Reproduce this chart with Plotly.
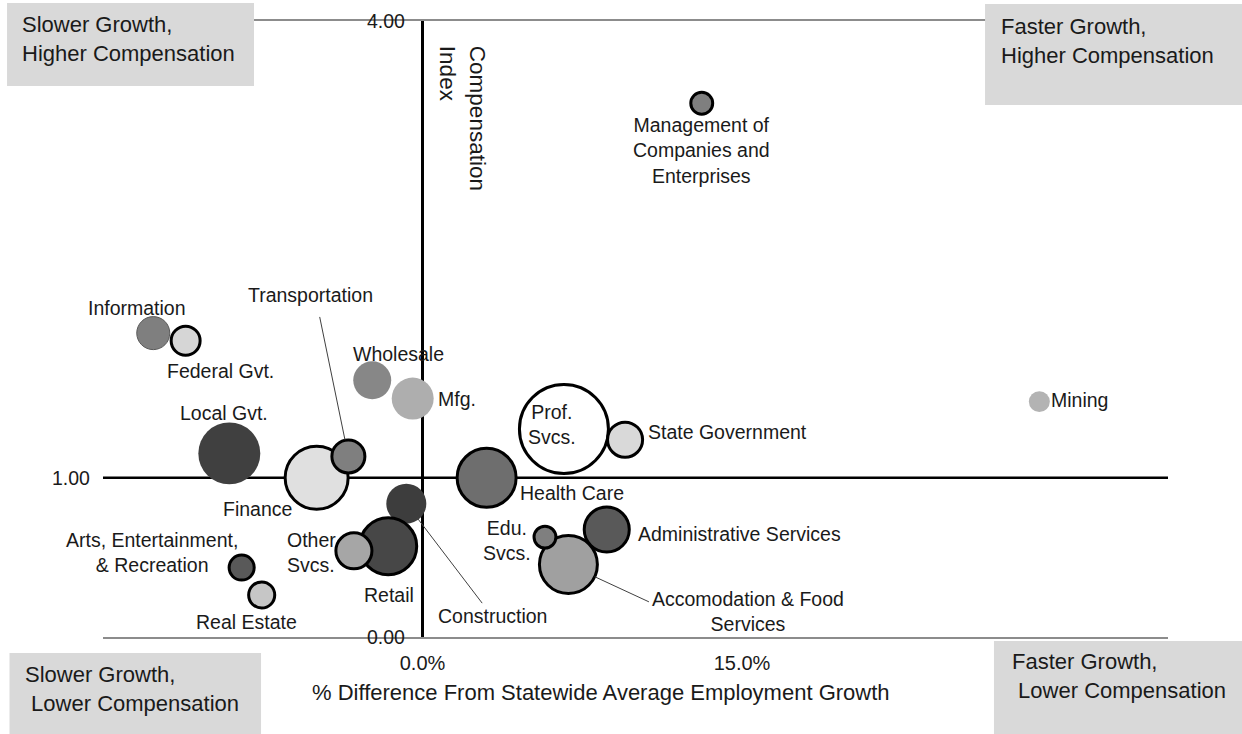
import plotly.graph_objects as go

# %%
# data
industries = [
    "Local Gvt.", "Finance", "Transportation", "Information", "Federal Gvt.",
    "Wholesale", "Mfg.", "Construction", "Retail", "Other Svcs.",
    "Arts, Entertainment, & Recreation", "Real Estate", "Health Care",
    "Prof. Svcs.", "State Government", "Administrative Services",
    "Accomodation & Food Services", "Edu. Svcs.",
    "Management of Companies and Enterprises", "Mining",
]
growth_diff = [-9.07, -4.97, -3.48, -12.64, -11.12, -2.36, -0.46, -0.76, -1.61, -3.22,
               -8.49, -7.55, 3.01, 6.64, 9.51, 8.65, 6.85, 5.75, 13.11, 28.96]
comp_index = [1.16, 1.00, 1.14, 1.95, 1.90, 1.64, 1.52, 0.83, 0.55, 0.52,
              0.41, 0.23, 1.00, 1.32, 1.25, 0.66, 0.43, 0.61, 3.46, 1.50]
employment = [38.4, 39.7, 10.9, 10.9, 8.4, 14.4, 17.6, 16.0, 32.5, 13.0,
              6.3, 6.8, 34.8, 79.2, 12.3, 20.3, 33.6, 4.8, 4.8, 4.4]
x_ticks = [0, 15]
x_tick_labels = ["0.0%", "15.0%"]

# %%
# styling per bubble: (fill, outline width)
style = {
    "Local Gvt.": ("#404040", 0),
    "Finance": ("#e0e0e0", 3),
    "Transportation": ("#7f7f7f", 3),
    "Information": ("#7f7f7f", 1),
    "Federal Gvt.": ("#d6d6d6", 3),
    "Wholesale": ("#878787", 0),
    "Mfg.": ("#aeaeae", 0),
    "Construction": ("#3d3d3d", 0),
    "Retail": ("#474747", 3),
    "Other Svcs.": ("#a6a6a6", 3),
    "Arts, Entertainment, & Recreation": ("#595959", 3),
    "Real Estate": ("#c6c6c6", 3),
    "Health Care": ("#6e6e6e", 3),
    "Prof. Svcs.": ("#ffffff", 3),
    "State Government": ("#d9d9d9", 3),
    "Administrative Services": ("#595959", 3),
    "Accomodation & Food Services": ("#a0a0a0", 3),
    "Edu. Svcs.": ("#7f7f7f", 3),
    "Management of Companies and Enterprises": ("#7f7f7f", 3),
    "Mining": ("#b3b3b3", 0),
}

# label text, xshift, yshift, xanchor, align
labels = {
    "Local Gvt.": ("Local Gvt.", -5, 40, "center", "center"),
    "Finance": ("Finance", -59, -31, "center", "center"),
    "Transportation": ("Transportation", -38, 161, "center", "center"),
    "Information": ("Information", -16, 25, "center", "center"),
    "Federal Gvt.": ("Federal Gvt.", 35, -30, "center", "center"),
    "Wholesale": ("Wholesale", 26, 26, "center", "center"),
    "Mfg.": ("Mfg.", 23, 0, "left", "left"),
    "Construction": ("Construction", 86, -112, "center", "center"),
    "Retail": ("Retail", 1, -49, "center", "center"),
    "Other Svcs.": ("Other<br>Svcs.", -69, -2, "left", "left"),
    "Arts, Entertainment, & Recreation": ("Arts, Entertainment,<br>& Recreation", -90, 15, "center", "center"),
    "Real Estate": ("Real Estate", -15, -27, "center", "center"),
    "Health Care": ("Health Care", 31, -15, "left", "left"),
    "Prof. Svcs.": ("Prof.<br>Svcs.", -12, 5, "center", "center"),
    "State Government": ("State Government", 21, 8, "left", "left"),
    "Administrative Services": ("Administrative Services", 29, -4, "left", "left"),
    "Accomodation & Food Services": ("Accomodation & Food<br>Services", 180, -47, "center", "center"),
    "Edu. Svcs.": ("Edu.<br>Svcs.", -38, -3, "center", "center"),
    "Management of Companies and Enterprises": ("Management of<br>Companies and<br>Enterprises", 0, -47, "center", "center"),
    "Mining": ("Mining", 10, 2, "left", "left"),
}

# leader lines: tail offset (px) and standoff
leaders = {
    "Transportation": (-29, -141, 17),
    "Construction": (77, 101, 18),
    "Accomodation & Food Services": (82, 38, 29),
}

FONT = "Liberation Sans, Arial, sans-serif"
TXT = "#1a1a1a"
LABEL_SIZE = 19.5

# %%
fig = go.Figure()
fig.add_trace(
    go.Scatter(
        x=growth_diff,
        y=comp_index,
        mode="markers",
        text=industries,
        marker=dict(
            size=employment,
            sizemode="area",
            sizeref=0.02,
            color=[style[i][0] for i in industries],
            opacity=1,
            line=dict(
                width=[style[i][1] for i in industries],
                color=["#595959" if style[i][1] == 1 else "#000000" for i in industries],
            ),
        ),
        hoverinfo="text",
        showlegend=False,
    )
)

# horizontal axis crossing at 1.00
fig.add_shape(type="line", xref="paper", x0=0, x1=1, yref="y", y0=1, y1=1,
              line=dict(color="#000000", width=2.5), layer="below")

annotations = []
for ind, gx, cy in zip(industries, growth_diff, comp_index):
    text, xs, ys, xa, al = labels[ind]
    annotations.append(dict(
        x=gx, y=cy, xref="x", yref="y", text=text, showarrow=False,
        xshift=xs, yshift=ys, xanchor=xa, yanchor="middle", align=al,
        font=dict(family=FONT, size=LABEL_SIZE, color=TXT),
    ))
    if ind in leaders:
        ax, ay, so = leaders[ind]
        annotations.append(dict(
            x=gx, y=cy, xref="x", yref="y", text="", showarrow=True,
            ax=ax, ay=ay, arrowhead=0, arrowwidth=1, arrowcolor="#404040",
            standoff=so,
        ))

# y tick labels
annotations.append(dict(x=0, y=4, xref="x", yref="y", text="4.00", showarrow=False,
                        xanchor="right", yanchor="middle", xshift=-16,
                        font=dict(family=FONT, size=LABEL_SIZE, color=TXT)))
annotations.append(dict(x=0, y=0, xref="x", yref="paper", text="0.00", showarrow=False,
                        xanchor="right", yanchor="middle", xshift=-16,
                        font=dict(family=FONT, size=LABEL_SIZE, color=TXT)))
annotations.append(dict(x=0, y=1, xref="paper", yref="y", text="1.00", showarrow=False,
                        xanchor="right", yanchor="middle", xshift=-11,
                        font=dict(family=FONT, size=LABEL_SIZE, color=TXT)))

# axis titles
annotations.append(dict(x=0.4676, y=-0.0893, xref="paper", yref="paper",
                        text="% Difference From Statewide Average Employment Growth",
                        showarrow=False, xanchor="center", yanchor="middle",
                        font=dict(family=FONT, size=22, color=TXT)))
annotations.append(dict(x=0.3375, y=0.963, xref="paper", yref="paper",
                        text="Compensation<br>Index", textangle=90, align="left",
                        showarrow=False, xanchor="center", yanchor="top",
                        font=dict(family=FONT, size=22.5, color=TXT)))

# quadrant boxes
quadrants = [
    ((-0.0901, 0.1418, 0.8945, 1.0292), "Slower Growth,<br>Higher Compensation", -0.0779, 0.9708),
    ((0.8282, 1.0695, 0.8636, 1.0276), "Faster Growth,<br>Higher Compensation", 0.8413, 0.9683),
    ((-0.0878, 0.1484, -0.1575, -0.026), "Slower Growth,<br>\u00a0Lower Compensation", -0.0751, -0.0848),
    ((0.8366, 1.0695, -0.1575, -0.0065), "Faster Growth,<br>\u00a0Lower Compensation", 0.8516, -0.0633),
]
for (x0, x1, y0, y1), txt, tx, ty in quadrants:
    fig.add_shape(type="rect", xref="paper", yref="paper", x0=x0, x1=x1, y0=y0, y1=y1,
                  fillcolor="#d9d9d9", line=dict(width=0), layer="above")
    annotations.append(dict(x=tx, y=ty, xref="paper", yref="paper", text=txt,
                            showarrow=False, xanchor="left", yanchor="middle", align="left",
                            font=dict(family=FONT, size=22, color=TXT)))

fig.update_layout(
    width=1242,
    height=734,
    autosize=False,
    margin=dict(l=103, r=74, t=21, b=97),
    paper_bgcolor="white",
    plot_bgcolor="white",
    font=dict(family=FONT, size=LABEL_SIZE, color=TXT),
    annotations=annotations,
    xaxis=dict(
        range=[-15, 35],
        showgrid=False,
        zeroline=True,
        zerolinecolor="#000000",
        zerolinewidth=2.5,
        showline=True,
        linecolor="#8c8c8c",
        linewidth=1.5,
        mirror=True,
        tickvals=x_ticks,
        ticktext=x_tick_labels,
        ticks="",
        ticklabelstandoff=7,
        tickfont=dict(family=FONT, size=20, color=TXT),
    ),
    yaxis=dict(
        range=[-0.046, 4.0],
        showgrid=False,
        zeroline=False,
        showline=False,
        showticklabels=False,
        ticks="",
    ),
)

fig.write_html(
    "out.html",
    config={"displayModeBar": False},
    post_script="document.body.style.margin='0';document.body.style.overflow='hidden';",
)
